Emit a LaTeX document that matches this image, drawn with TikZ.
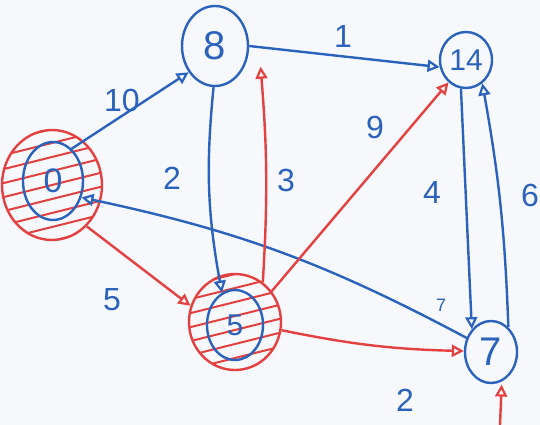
\documentclass[tikz,border=0pt]{standalone}
\usepackage{fontspec}
\setmainfont{Liberation Sans}
\usetikzlibrary{arrows.meta,shapes.geometric}
\definecolor{ink}{HTML}{2A62BC}
\definecolor{pen}{HTML}{E4403F}
\definecolor{paper}{HTML}{F6F8FC}
\begin{document}
\begin{tikzpicture}[x=1pt,y=-1pt,
  vert/.style={ellipse, draw=ink, line width=2.4pt, inner sep=0pt, text=ink},
  ring/.style={ellipse, draw=pen, line width=2.4pt, inner sep=0pt},
  be/.style={draw=ink, line width=2.4pt, -{Triangle[open,length=12pt,width=12pt,line width=2.2pt]}},
  re/.style={draw=pen, line width=2.4pt, -{Triangle[open,length=12pt,width=12pt,line width=2.2pt]}},
  wt/.style={text=ink, inner sep=0pt, font=\fontsize{32}{32}\selectfont},
  hatchline/.style={draw=pen, line width=2pt}]
  \fill[paper] (0,0) rectangle (540,425);
  \useasboundingbox (0,0) rectangle (540,425);

  % visited vertices: red rings with hatching
  \node[ring, minimum width=100pt, minimum height=110pt] (h0) at (52,185) {};
  \node[ring, minimum width=92pt, minimum height=96pt] (h5) at (235,322) {};
  \begin{scope}
    \clip (52,185) ellipse [x radius=50pt, y radius=55pt];
    \foreach \k in {-70,-56,...,84}
      \draw[hatchline] (0,185+\k+13) -- (104,185+\k-13);
  \end{scope}
  \begin{scope}
    \clip (235,322) ellipse [x radius=46pt, y radius=48pt];
    \foreach \k in {-62,-48,...,76}
      \draw[hatchline] (187,322+\k+12) -- (283,322+\k-12);
  \end{scope}

  % vertices
  \node[vert, minimum width=66pt, minimum height=80pt, font=\fontsize{40}{40}\selectfont] (n8) at (215,46) {8};
  \node[vert, minimum width=52pt, minimum height=56pt, font=\fontsize{30}{30}\selectfont] (n14) at (466,60) {14};
  \node[vert, minimum width=60pt, minimum height=78pt, font=\fontsize{34}{34}\selectfont] (n0) at (53,181) {0};
  \node[vert, minimum width=56pt, minimum height=70pt, font=\fontsize{30}{30}\selectfont] (n5) at (235,325) {5};
  \node[vert, minimum width=52pt, minimum height=62pt, font=\fontsize{40}{40}\selectfont] (n7) at (491,352) {7};

  % blue edges
  \draw[be] (n0.60) -- (n8.-135);
  \draw[be] (n8.0) -- (n14.-165);
  \draw[be] (n8.-92) to[bend right=8] (n5.112);
  \draw[be] (n14.-100) -- (n7.130);
  \draw[be] (n7.55) to[bend right=4] (n14.-55);
  \draw[be] (n7.150) to[bend right=8] (n0.-30);

  % red edges
  \draw[re] (h0.-50) -- (h5.160);
  \draw[re] (h5.55) to[bend right=4] ([xshift=16pt]n8.-35);
  \draw[re] (h5.40) -- (n14.-128);
  \draw[re] (h5.-10) to[bend right=5] (n7.178);
  \coordinate (src) at (500,425);
  \draw[re, shorten >=3pt] (src) -- (n7.-70);

  % weights
  \node[wt] (w10) at (122,100) {10};
  \node[wt] (w1) at (343,36) {1};
  \node[wt] (w2a) at (172,178) {2};
  \node[wt] (w3) at (286,180) {3};
  \node[wt] (w9) at (375,127) {9};
  \node[wt] (w4) at (432,192) {4};
  \node[wt] (w6) at (530,195) {6};
  \node[wt] (w5) at (112,300) {5};
  \node[wt] (w2b) at (405,400) {2};
  \node[wt, font=\fontsize{18}{18}\selectfont] (w7) at (441,305) {7};
\end{tikzpicture}
\end{document}
